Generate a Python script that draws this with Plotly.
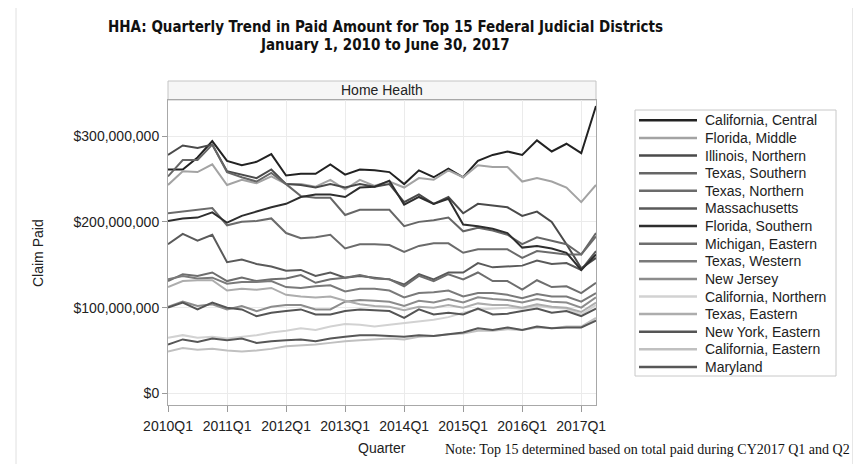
import plotly.graph_objects as go

# ---------------- data (values in millions of dollars) ----------------
quarters = ["2010Q1", "2010Q2", "2010Q3", "2010Q4", "2011Q1", "2011Q2", "2011Q3", "2011Q4",
            "2012Q1", "2012Q2", "2012Q3", "2012Q4", "2013Q1", "2013Q2", "2013Q3", "2013Q4",
            "2014Q1", "2014Q2", "2014Q3", "2014Q4", "2015Q1", "2015Q2", "2015Q3", "2015Q4",
            "2016Q1", "2016Q2", "2016Q3", "2016Q4", "2017Q1", "2017Q2"]
tick_labels = ["2010Q1", "2011Q1", "2012Q1", "2013Q1", "2014Q1", "2015Q1", "2016Q1", "2017Q1"]
y_ticks = [0, 100e6, 200e6, 300e6]

series_names = ["California, Central", "Florida, Middle", "Illinois, Northern", "Texas, Southern",
                "Texas, Northern", "Massachusetts", "Florida, Southern", "Michigan, Eastern",
                "Texas, Western", "New Jersey", "California, Northern", "Texas, Eastern",
                "New York, Eastern", "California, Eastern", "Maryland"]

ca_central = [261, 261, 275, 294, 271, 266, 270, 279, 254, 256, 256, 267, 255, 261, 260, 258,
              244, 260, 252, 262, 252, 271, 278, 282, 278, 295, 282, 291, 280, 335]
fl_middle = [243, 259, 258, 267, 243, 249, 245, 253, 244, 244, 241, 249, 238, 249, 242, 247,
             240, 251, 249, 260, 252, 266, 264, 264, 247, 251, 247, 240, 223, 243]
il_northern = [278, 289, 286, 290, 259, 255, 251, 261, 244, 243, 240, 244, 240, 244, 241, 244,
               223, 232, 221, 229, 210, 221, 219, 217, 207, 212, 200, 174, 146, 158]
tx_southern = [253, 272, 272, 290, 258, 252, 247, 257, 244, 230, 228, 228, 208, 214, 214, 214,
               195, 200, 202, 205, 189, 193, 190, 185, 174, 182, 178, 174, 162, 187]
tx_northern = [210, 212, 214, 216, 196, 200, 201, 204, 187, 181, 182, 185, 169, 174, 174, 173,
               165, 172, 175, 175, 164, 168, 168, 168, 158, 166, 164, 162, 162, 183]
massachusetts = [174, 186, 178, 185, 153, 156, 151, 148, 143, 144, 137, 141, 135, 137, 135, 133,
                 127, 139, 133, 141, 141, 152, 147, 148, 149, 155, 151, 152, 144, 166]
fl_southern = [201, 204, 205, 211, 199, 207, 212, 217, 221, 229, 232, 232, 229, 240, 241, 248,
               220, 229, 221, 227, 197, 195, 192, 187, 170, 172, 169, 164, 144, 162]
mi_eastern = [131, 139, 137, 141, 131, 135, 131, 133, 134, 138, 129, 133, 135, 138, 134, 133,
              125, 137, 131, 139, 133, 141, 131, 131, 121, 132, 124, 125, 117, 129]
tx_western = [133, 137, 134, 135, 128, 130, 130, 131, 124, 123, 125, 126, 119, 122, 122, 120,
              112, 117, 118, 120, 113, 117, 117, 115, 111, 116, 113, 113, 107, 117]
new_jersey = [101, 107, 102, 104, 98, 102, 96, 101, 103, 103, 98, 98, 107, 109, 108, 107,
              102, 108, 106, 110, 106, 112, 110, 109, 106, 110, 107, 106, 100, 112]
ca_northern = [65, 68, 65, 66, 64, 66, 68, 71, 73, 76, 74, 78, 81, 80, 78, 80,
               82, 84, 86, 89, 94, 98, 99, 100, 99, 102, 100, 99, 92, 103]
tx_eastern = [124, 131, 132, 132, 120, 122, 121, 123, 115, 113, 112, 113, 108, 104, 102, 101,
              97, 101, 100, 103, 100, 105, 103, 103, 100, 104, 101, 100, 95, 106]
ny_eastern = [100, 106, 98, 106, 100, 98, 90, 94, 96, 98, 92, 92, 96, 98, 97, 96,
              88, 98, 92, 94, 92, 99, 92, 93, 96, 99, 94, 96, 90, 99]
ca_eastern = [49, 53, 51, 52, 50, 49, 50, 52, 55, 56, 57, 59, 61, 62, 63, 64,
              63, 66, 67, 69, 70, 73, 73, 75, 74, 77, 76, 78, 78, 88]
maryland = [57, 63, 60, 64, 62, 64, 59, 61, 62, 63, 61, 64, 66, 68, 68, 67,
            66, 68, 67, 69, 71, 76, 74, 77, 74, 78, 76, 77, 77, 85]

series_values = [ca_central, fl_middle, il_northern, tx_southern, tx_northern, massachusetts,
                 fl_southern, mi_eastern, tx_western, new_jersey, ca_northern, tx_eastern,
                 ny_eastern, ca_eastern, maryland]
series_colors = ["#222222", "#a3a3a3", "#4a4a4a", "#666666", "#6b6b6b", "#5a5a5a", "#2e2e2e",
                 "#6e6e6e", "#7a7a7a", "#8c8c8c", "#d2d2d2", "#adadad", "#555555", "#c0c0c0",
                 "#575757"]

# ---------------- layout geometry (pixels) ----------------
W, H = 861, 464
L, R, T, B = 160, 588, 92, 397


def px(x):
    return (x - L) / (R - L)


def py(y):
    return (B - y) / (B - T)


SANS = "Liberation Sans, Arial, sans-serif"
NARROW = "Liberation Sans Narrow, Arial Narrow, DejaVu Sans Condensed, sans-serif"
SERIF = "Liberation Serif, Times New Roman, serif"
TXT = "#222222"

fig = go.Figure()
for name, vals, col in zip(series_names, series_values, series_colors):
    fig.add_trace(go.Scatter(x=quarters, y=[v * 1e6 for v in vals], mode="lines", name=name,
                             line=dict(color=col, width=2), showlegend=False))

shapes = []
annotations = []

# header strip
shapes.append(dict(type="rect", xref="paper", yref="paper", x0=0, x1=1, y0=1, y1=py(73),
                   fillcolor="#f6f6f6", line=dict(color="#c4c4c4", width=1), layer="below"))
annotations.append(dict(xref="paper", yref="paper", x=0.5, y=py(82.5), text="Home Health",
                        showarrow=False, font=dict(family=SANS, size=14, color=TXT),
                        xanchor="center", yanchor="middle"))

# custom legend
leg_x0, leg_x1, leg_y0, leg_y1 = 627, 828, 102, 368
shapes.append(dict(type="rect", xref="paper", yref="paper", x0=px(leg_x0), x1=px(leg_x1),
                   y0=py(leg_y1), y1=py(leg_y0), fillcolor="white",
                   line=dict(color="#c8c8c8", width=1)))
for k, (name, col) in enumerate(zip(series_names, series_colors)):
    yk = 112.3 + 17.62 * k
    shapes.append(dict(type="line", xref="paper", yref="paper", x0=px(631), x1=px(689),
                       y0=py(yk), y1=py(yk), line=dict(color=col, width=2.5)))
    annotations.append(dict(xref="paper", yref="paper", x=px(695), y=py(yk), text=name,
                            showarrow=False, xanchor="left", yanchor="middle",
                            font=dict(family=SANS, size=14, color=TXT)))

# outer frame lines
shapes.append(dict(type="line", xref="paper", yref="paper", x0=px(845), x1=px(845),
                   y0=py(H + 2), y1=py(-2), line=dict(color="#cfcfcf", width=1)))
shapes.append(dict(type="line", xref="paper", yref="paper", x0=px(8), x1=px(8),
                   y0=py(H + 2), y1=py(-2), line=dict(color="#e0e0e0", width=1)))

# titles and labels
annotations.append(dict(xref="paper", yref="paper", x=px(377), y=py(19),
                        text="<b>HHA: Quarterly Trend in Paid Amount for Top 15 Federal Judicial Districts</b>",
                        showarrow=False, xanchor="center", yanchor="middle",
                        font=dict(family=NARROW, size=15, color="#111111")))
annotations.append(dict(xref="paper", yref="paper", x=px(377), y=py(37),
                        text="<b>January 1, 2010 to June 30, 2017</b>",
                        showarrow=False, xanchor="center", yanchor="middle",
                        font=dict(family=NARROW, size=15, color="#111111")))
annotations.append(dict(xref="paper", yref="paper", x=px(30), y=py(245), text="Claim Paid",
                        textangle=-90, showarrow=False, xanchor="center", yanchor="middle",
                        font=dict(family=SANS, size=14, color=TXT)))
annotations.append(dict(xref="paper", yref="paper", x=px(374), y=py(440), text="Quarter",
                        showarrow=False, xanchor="center", yanchor="middle",
                        font=dict(family=SANS, size=14, color=TXT)))
annotations.append(dict(xref="paper", yref="paper", x=px(435), y=py(441),
                        text="Note: Top 15 determined based on total paid during CY2017 Q1 and Q2",
                        showarrow=False, xanchor="left", yanchor="middle",
                        font=dict(family=SERIF, size=14, color="#111111")))

fig.update_layout(
    width=W, height=H,
    margin=dict(l=L, r=W - R, t=T, b=H - B, pad=0),
    paper_bgcolor="white", plot_bgcolor="white",
    shapes=shapes, annotations=annotations,
    showlegend=False,
    xaxis=dict(type="category", categoryorder="array", categoryarray=quarters,
               range=[0, len(quarters) - 1], tickmode="array", tickvals=tick_labels,
               ticktext=tick_labels, showgrid=True, gridcolor="#ebebeb", gridwidth=1,
               ticks="outside", ticklen=6, tickcolor="#9a9a9a", showline=True,
               linecolor="#a8a8a8", linewidth=1, mirror=True, zeroline=False,
               ticklabelstandoff=2,
               tickfont=dict(family=SANS, size=14, color=TXT)),
    yaxis=dict(range=[-13.4e6, 342e6], tickmode="array", tickvals=y_ticks,
               tickformat="$,.0f", showgrid=True, gridcolor="#ebebeb", gridwidth=1,
               ticks="outside", ticklen=5, tickcolor="#9a9a9a", showline=True,
               linecolor="#a8a8a8", linewidth=1, mirror=True, zeroline=False,
               tickfont=dict(family=SANS, size=14, color=TXT)),
)

fig.write_html("out.html")
